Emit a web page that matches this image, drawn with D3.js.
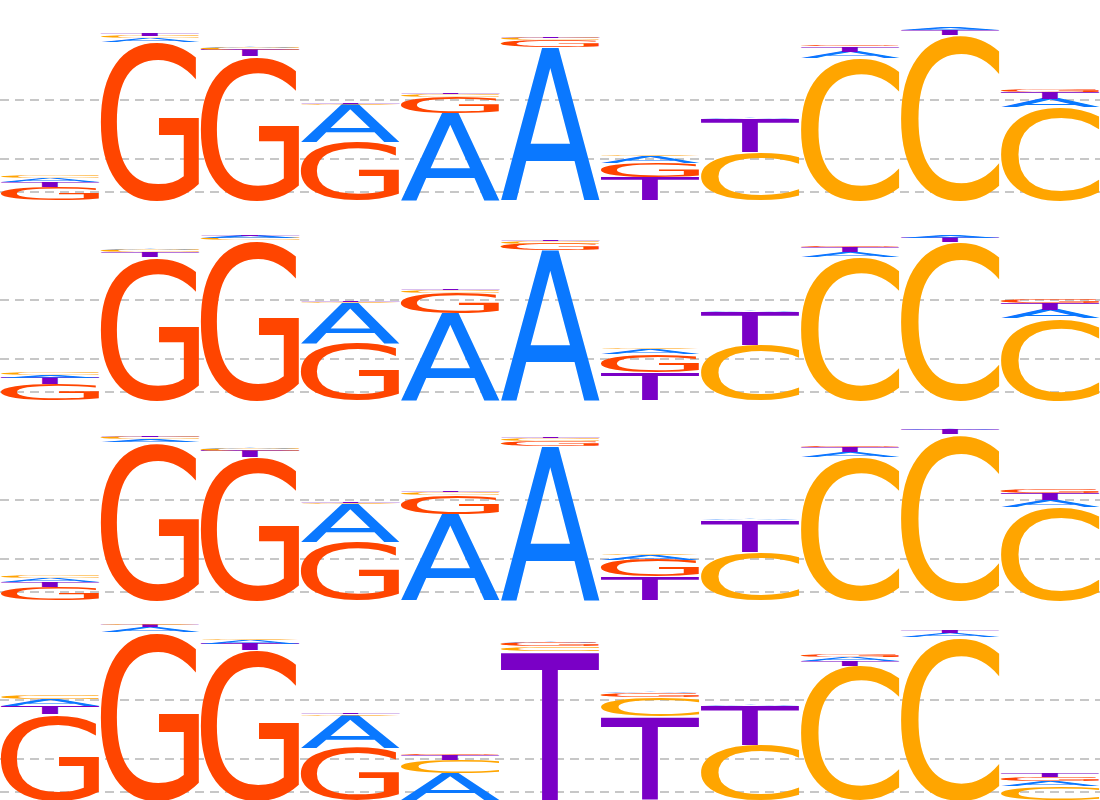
<!DOCTYPE html>
<html>
<head>
<meta charset="utf-8">
<script src="https://cdn.jsdelivr.net/npm/d3@7/dist/d3.min.js"></script>
<style>
  body { margin: 0; background: #fff; }
  svg { display: block; }
</style>
</head>
<body>
<svg id="chart"></svg>
<script>
// positions along the motif
const positions = [1, 2, 3, 4, 5, 6, 7, 8, 9, 10, 11];
const bases = ['A', 'C', 'G', 'T'];

// letter heights (bits) per row, one value per position
const row1A = [0.035, 0.035, 0.015, 0.37, 0.87, 1.53, 0.06, 0.015, 0.065, 0.02, 0.085];
const row1C = [0.025, 0.025, 0.02, 0.015, 0.03, 0.025, 0.015, 0.48, 1.42, 1.65, 0.93];
const row1G = [0.13, 1.58, 1.44, 0.58, 0.16, 0.065, 0.145, 0.005, 0.015, 0.005, 0.03];
const row1T = [0.05, 0.022, 0.06, 0.005, 0.005, 0.005, 0.23, 0.33, 0.05, 0.05, 0.06];

const row2A = [0.03, 0.018, 0.02, 0.40, 0.867, 1.50, 0.05, 0.01, 0.05, 0.025, 0.085];
const row2C = [0.025, 0.02, 0.022, 0.015, 0.03, 0.03, 0.01, 0.55, 1.43, 1.58, 0.817];
const row2G = [0.157, 1.43, 1.60, 0.567, 0.20, 0.06, 0.18, 0.005, 0.015, 0.005, 0.04];
const row2T = [0.06, 0.05, 0.018, 0.005, 0.005, 0.005, 0.28, 0.33, 0.049, 0.045, 0.065];

const row3A = [0.04, 0.03, 0.015, 0.375, 0.857, 1.54, 0.05, 0.015, 0.05, 0.015, 0.07];
const row3C = [0.03, 0.02, 0.02, 0.01, 0.03, 0.03, 0.01, 0.477, 1.43, 1.657, 0.933];
const row3G = [0.133, 1.577, 1.433, 0.583, 0.19, 0.05, 0.17, 0.005, 0.015, 0.005, 0.035];
const row3T = [0.05, 0.018, 0.06, 0.005, 0.005, 0.005, 0.233, 0.32, 0.049, 0.045, 0.065];

const row4A = [0.065, 0.045, 0.04, 0.32, 0.267, 0.01, 0.01, 0.01, 0.035, 0.035, 0.05];
const row4C = [0.035, 0.01, 0.01, 0.015, 0.13, 0.045, 0.195, 0.55, 1.34, 1.633, 0.14];
const row4G = [0.857, 1.683, 1.50, 0.523, 0.015, 0.035, 0.045, 0.005, 0.03, 0.005, 0.036];
const row4T = [0.083, 0.025, 0.06, 0.005, 0.05, 1.493, 0.833, 0.39, 0.05, 0.03, 0.033];

// dashed reference lines (bits)
const gridValues = [1.0, 0.41, 0.08];

const rows = [
  { A: row1A, C: row1C, G: row1G, T: row1T },
  { A: row2A, C: row2C, G: row2G, T: row2T },
  { A: row3A, C: row3C, G: row3G, T: row3T },
  { A: row4A, C: row4C, G: row4G, T: row4T }
];

const colors = { A: '#0a78ff', C: '#ffa500', G: '#ff4500', T: '#7a00c6' };

const width = 1100;
const height = 800;
const rowHeight = height / rows.length;

const svg = d3.select('#chart')
  .attr('width', width)
  .attr('height', height);

const x = d3.scaleBand()
  .domain(positions)
  .range([0, width])
  .padding(0);

const y = d3.scaleLinear()
  .domain([0, 2])
  .range([rowHeight, 0]);

// tight glyph boxes, so each letter can be stretched to fill its slot
const fontFamily = 'DejaVu Sans';
const fontWeight = 'normal';
const ctx = document.createElement('canvas').getContext('2d');
ctx.font = `${fontWeight} 100px "${fontFamily}"`;
const glyph = {};
bases.forEach(b => {
  const m = ctx.measureText(b);
  glyph[b] = {
    left: m.actualBoundingBoxLeft,
    ascent: m.actualBoundingBoxAscent,
    w: m.actualBoundingBoxLeft + m.actualBoundingBoxRight,
    h: m.actualBoundingBoxAscent + m.actualBoundingBoxDescent
  };
});

rows.forEach((row, r) => {
  const g = svg.append('g')
    .attr('transform', `translate(0, ${r * rowHeight})`);

  // grid lines sit behind the letters
  g.selectAll('.grid')
    .data(gridValues)
    .enter()
    .append('line')
    .attr('class', 'grid')
    .attr('x1', 0)
    .attr('x2', width)
    .attr('y1', d => y(d))
    .attr('y2', d => y(d))
    .attr('stroke', '#b5b5b5')
    .attr('stroke-width', 1.4)
    .attr('stroke-dasharray', '9,6');

  positions.forEach((pos, i) => {
    // biggest letter at the bottom
    const stack = bases
      .map(b => ({ base: b, value: row[b][i] }))
      .sort((a, b) => b.value - a.value);

    let acc = 0;
    stack.forEach(d => {
      d.y0 = acc;
      acc += d.value;
      d.y1 = acc;
    });

    g.selectAll(`.letter-${i}`)
      .data(stack.filter(d => d.value > 0))
      .enter()
      .append('text')
      .attr('class', `letter-${i}`)
      .attr('font-family', fontFamily)
      .attr('font-weight', fontWeight)
      .attr('font-size', '100px')
      .attr('fill', d => colors[d.base])
      .attr('transform', d => {
        const m = glyph[d.base];
        const boxH = y(d.y0) - y(d.y1);
        const sx = x.bandwidth() / m.w;
        const sy = boxH / m.h;
        return `translate(${x(pos)}, ${y(d.y1)}) scale(${sx}, ${sy}) translate(${m.left}, ${m.ascent})`;
      })
      .text(d => d.base);
  });
});
</script>
</body>
</html>
